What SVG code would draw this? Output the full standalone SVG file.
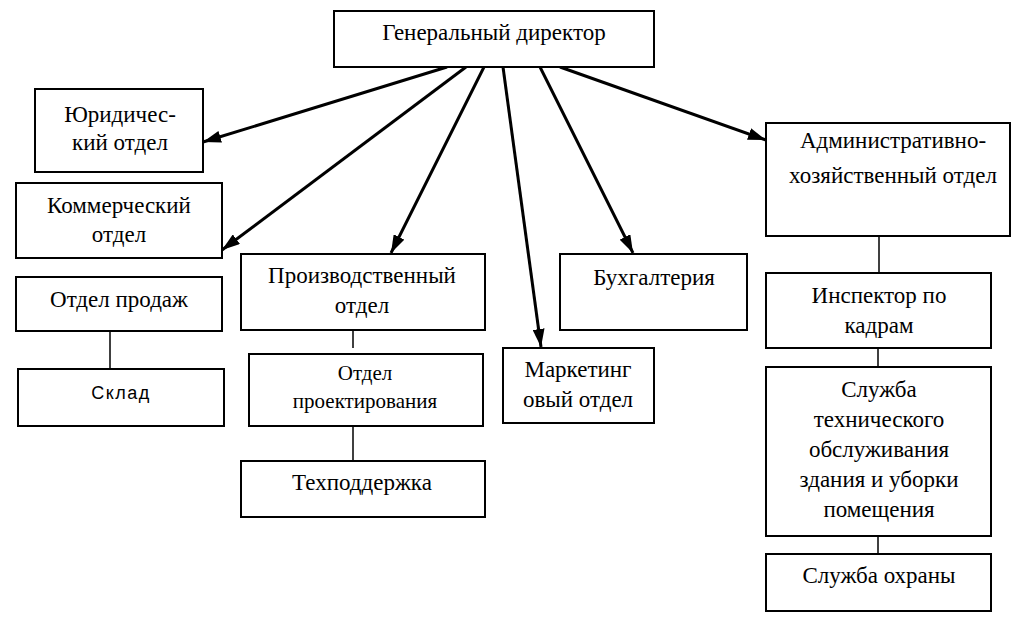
<svg xmlns="http://www.w3.org/2000/svg" width="1018" height="621" viewBox="0 0 1018 621">
<defs>
<style>
.b{fill:#fff;stroke:#000;stroke-width:2}
.t{font-family:'Liberation Serif','DejaVu Serif',serif;font-size:23px;fill:#000;text-anchor:middle}
.p{font-family:'Liberation Serif','DejaVu Serif',serif;font-size:21px;fill:#000;text-anchor:middle}
.s{font-family:'Liberation Sans','DejaVu Sans',sans-serif;font-size:18px;fill:#000;text-anchor:middle;letter-spacing:1.5px}
.a{stroke:#000;stroke-width:3;fill:none;marker-end:url(#ah)}
.l{stroke:#000;stroke-width:1.5;fill:none}
</style>
<marker id="ah" viewBox="0 0 18 12" refX="18" refY="6" markerWidth="18" markerHeight="12" markerUnits="userSpaceOnUse" orient="auto">
<path d="M0,0 L18,6 L0,12 z" fill="#000"/>
</marker>
</defs>
<rect width="1018" height="621" fill="#fff"/>
<g id="connectors">
<line class="a" x1="447" y1="67" x2="203" y2="142"/>
<line class="a" x1="466" y1="67" x2="222" y2="250"/>
<line class="a" x1="484" y1="67" x2="391" y2="253"/>
<line class="a" x1="503" y1="67" x2="541" y2="347"/>
<line class="a" x1="540" y1="67" x2="633" y2="253"/>
<line class="a" x1="560" y1="67" x2="766" y2="140"/>
<line class="l" x1="879" y1="236" x2="879" y2="273"/>
<line class="l" x1="878" y1="348" x2="878" y2="367"/>
<line class="l" x1="878" y1="536" x2="878" y2="554"/>
<line class="l" x1="110" y1="331" x2="110" y2="369"/>
<line class="l" x1="353" y1="330" x2="353" y2="348"/>
<line class="l" x1="353" y1="426" x2="353" y2="461"/>
</g>
<g id="gen"><rect class="b" x="334" y="11" width="320" height="56"/><text class="t" x="494" y="40">Генеральный директор</text></g>
<g id="jur"><rect class="b" x="35" y="89" width="168" height="83"/><text class="t" x="120" y="122">Юридичес-</text><text class="t" x="120" y="150">кий отдел</text></g>
<g id="kom"><rect class="b" x="16" y="183" width="206" height="75"/><text class="t" x="119" y="213">Коммерческий</text><text class="t" x="119" y="242">отдел</text></g>
<g id="prod"><rect class="b" x="16" y="277" width="206" height="54"/><text class="t" x="119" y="307">Отдел продаж</text></g>
<g id="sklad"><rect class="b" x="18" y="369" width="206" height="57"/><text class="s" x="121" y="399">Склад</text></g>
<g id="proiz"><rect class="b" x="241" y="254" width="244" height="76"/><text class="t" x="362" y="283">Производственный</text><text class="t" x="362" y="313">отдел</text></g>
<g id="proekt"><rect class="b" x="249" y="354" width="234" height="72"/><text class="p" x="365" y="380">Отдел</text><text class="p" x="365" y="408">проектирования</text></g>
<g id="tech"><rect class="b" x="241" y="461" width="244" height="56"/><text class="t" x="362" y="490">Техподдержка</text></g>
<g id="mark"><rect class="b" x="503" y="348" width="151" height="75"/><text class="t" x="578" y="377">Маркетинг</text><text class="t" x="578" y="407">овый отдел</text></g>
<g id="buh"><rect class="b" x="560" y="254" width="187" height="76"/><text class="t" x="654" y="285">Бухгалтерия</text></g>
<g id="adm"><rect class="b" x="766" y="123" width="244" height="113"/><text class="t" x="893" y="148">Административно-</text><text class="t" x="893" y="183">хозяйственный отдел</text></g>
<g id="insp"><rect class="b" x="766" y="273" width="225" height="75"/><text class="t" x="879" y="303">Инспектор по</text><text class="t" x="879" y="333">кадрам</text></g>
<g id="sluzh"><rect class="b" x="766" y="367" width="225" height="169"/><text class="t" x="879" y="397">Служба</text><text class="t" x="879" y="427">технического</text><text class="t" x="879" y="457">обслуживания</text><text class="t" x="879" y="487">здания и уборки</text><text class="t" x="879" y="517">помещения</text></g>
<g id="ohr"><rect class="b" x="766" y="554" width="225" height="57"/><text class="t" x="879" y="583">Служба охраны</text></g>
</svg>
